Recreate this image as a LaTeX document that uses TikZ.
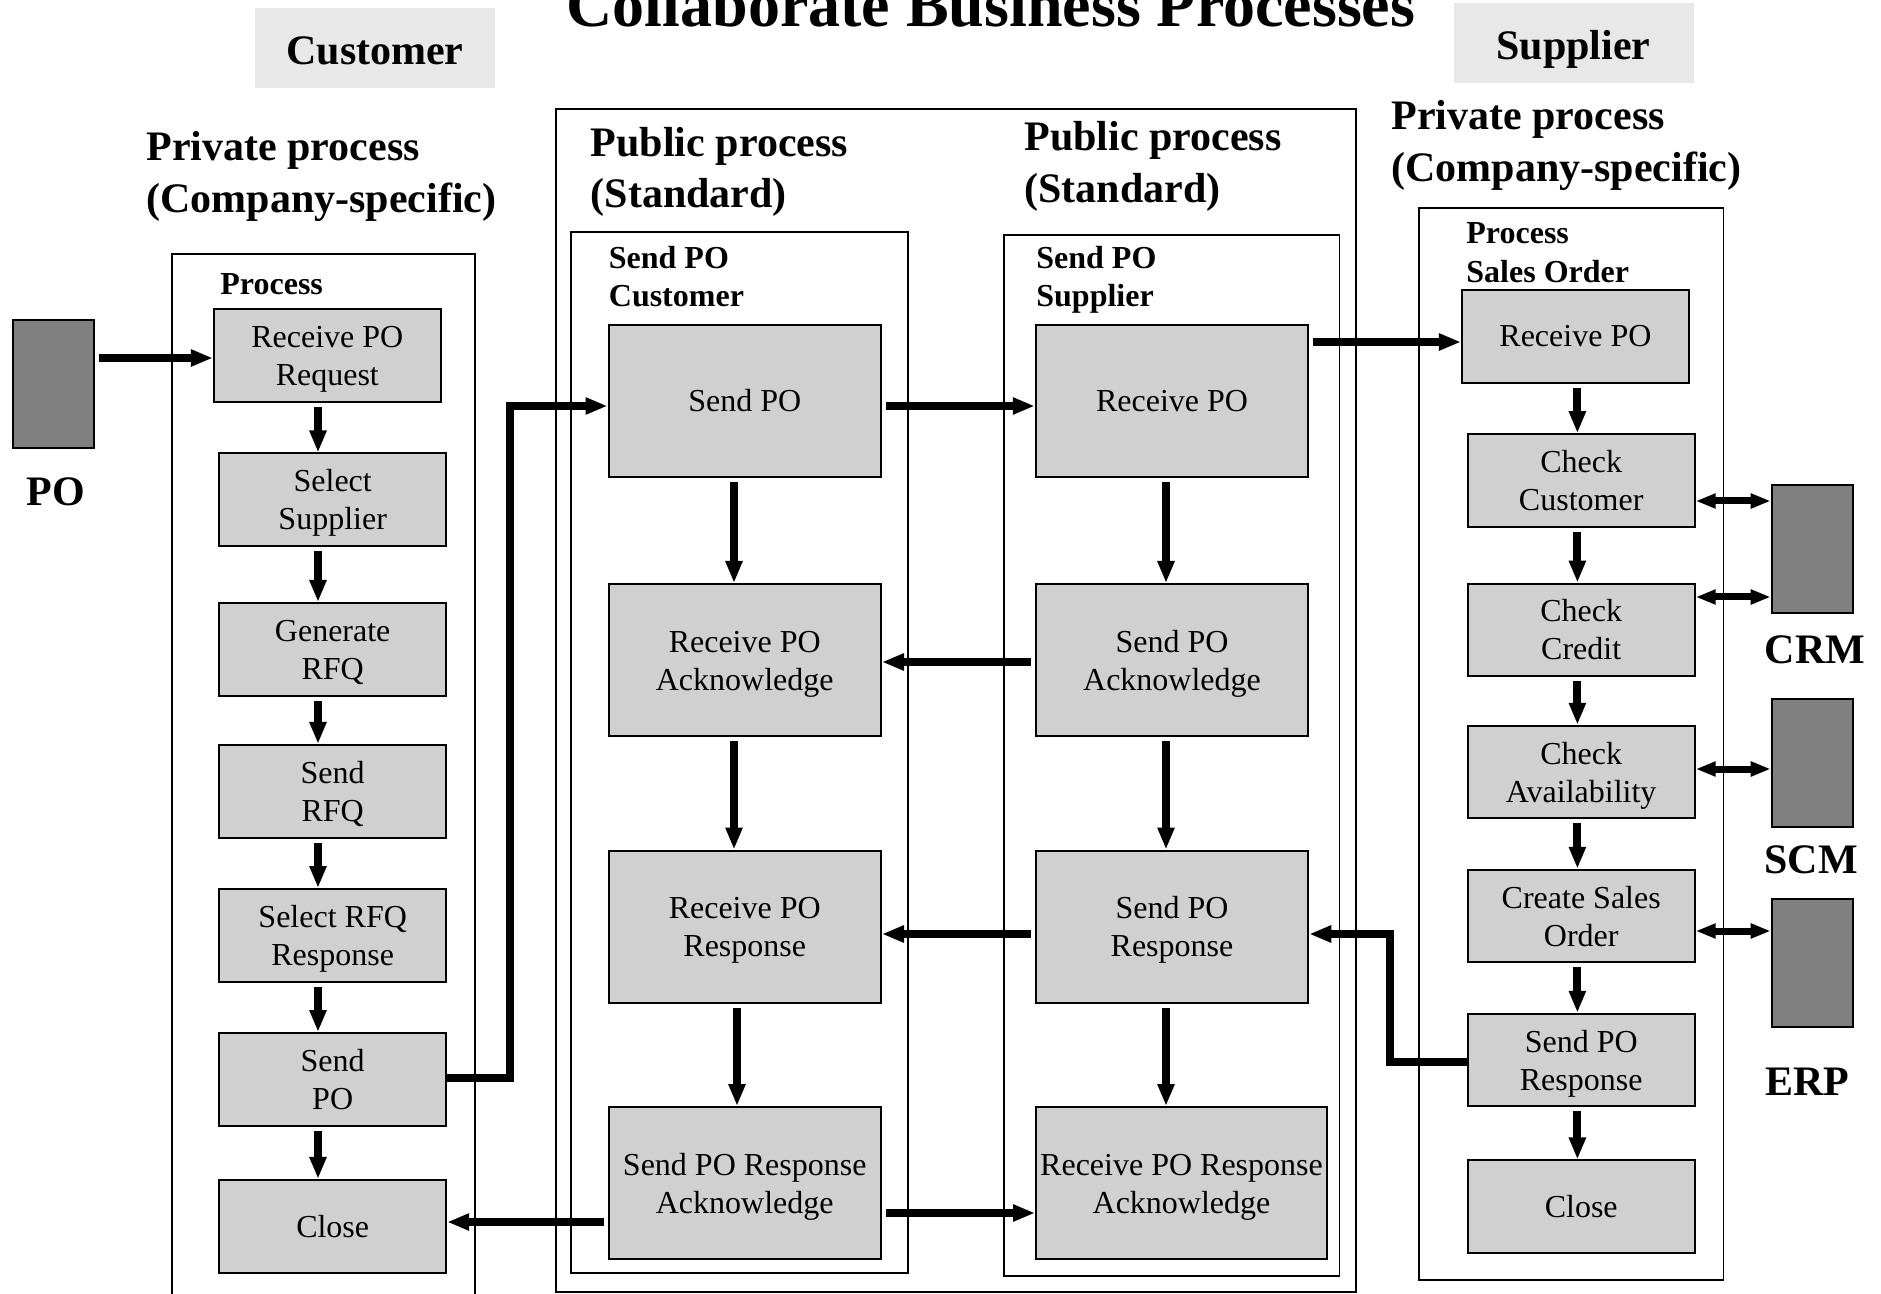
\documentclass[tikz,border=0pt]{standalone}
\usepackage{fontspec}
\setmainfont{Liberation Serif}
\usetikzlibrary{arrows.meta,calc}
\definecolor{boxgray}{RGB}{208,208,208}
\definecolor{sysgray}{RGB}{128,128,128}
\definecolor{headgray}{RGB}{232,232,232}

\begin{document}
\begin{tikzpicture}[x=0.5pt,y=-0.5pt,
  stepbox/.style={draw=black, line width=1pt, fill=boxgray, align=center,
    inner sep=0pt, font=\fontsize{16}{19}\selectfont},
  twoline/.style={text height=32.5pt, text depth=2.5pt},
  narrowbox/.style={stepbox, minimum width=113.5pt, minimum height=46.5pt},
  widebox/.style={stepbox, minimum width=136.25pt, minimum height=76pt},
  sysbox/.style={draw=black, line width=1pt, fill=sysgray,
    minimum width=40.5pt, minimum height=64pt, inner sep=0pt},
  headbox/.style={fill=headgray, minimum width=120pt, minimum height=40pt, inner sep=0pt},
  cont/.style={draw=black, line width=0.8pt},
  heading/.style={font=\fontsize{21}{26}\selectfont\bfseries, inner sep=0pt, anchor=base west},
  lab/.style={font=\fontsize{16}{19}\selectfont\bfseries, inner sep=0pt, anchor=base west},
  sysname/.style={font=\fontsize{21}{26}\selectfont\bfseries, inner sep=0pt, anchor=base},
  arr/.style={line width=4pt, -{Triangle[length=11pt,width=8pt]}, shorten <=2pt},
  darr/.style={line width=3.5pt, {Triangle[length=10pt,width=7pt]}-{Triangle[length=10pt,width=7pt]}}
]
\useasboundingbox (0,0) rectangle (1881,1294);

% ---------- title and party headers ----------
\node[font=\fontsize{32}{38}\selectfont\bfseries, inner sep=0pt, anchor=base]
  (title) at (991,27) {Collaborate Business Processes};
\node[headbox] (custhead) at (375,48) {};
\node[sysname] (custtxt) at (375,65) {Customer};
\node[headbox] (suphead) at (1573.5,43) {};
\node[sysname] (suptxt) at (1573.5,60) {Supplier};

% ---------- section headings ----------
\node[heading] (privL1) at (146,161) {Private process};
\node[heading] (privL2) at (146,213) {(Company-specific)};
\node[heading] (pubL1) at (590.5,157) {Public process};
\node[heading] (pubL2) at (590.5,208) {(Standard)};
\node[heading] (pubR1) at (1024,151) {Public process};
\node[heading] (pubR2) at (1024,203) {(Standard)};
\node[heading] (privR1) at (1391,130) {Private process};
\node[heading] (privR2) at (1391,182) {(Company-specific)};

% ---------- containers ----------
\draw[cont] (172,1294) -- (172,254) -- (475,254) -- (475,1294);
\draw[cont] (556,109) rectangle (1356,1292);
\draw[cont] (571,232) rectangle (907.7,1273);
\draw[cont] (1004,235) rectangle (1339.5,1276);
\draw[cont] (1419,208) rectangle (1723.5,1280);

\node[lab] (lprocl) at (220,295) {Process};
\node[lab] (custl1) at (608.5,269) {Send PO};
\node[lab] (custl2) at (608.5,307) {Customer};
\node[lab] (supl1) at (1036,269) {Send PO};
\node[lab] (supl2) at (1036,307) {Supplier};
\node[lab] (rprocl1) at (1466,244) {Process};
\node[lab] (rprocl2) at (1466,283) {Sales Order};

% ---------- customer private process ----------
\node[narrowbox, twoline] (lRecv) at (327.3,355.5) {Receive PO\\Request};
\node[narrowbox, twoline] (lSel) at (332.7,500) {Select\\Supplier};
\node[narrowbox, twoline] (lGen) at (332.7,649.5) {Generate\\RFQ};
\node[narrowbox, twoline] (lSendRFQ) at (332.7,791.4) {Send\\RFQ};
\node[narrowbox, twoline] (lSelRFQ) at (332.7,935.5) {Select RFQ\\Response};
\node[narrowbox, twoline] (lSendPO) at (332.7,1079.5) {Send\\PO};
\node[narrowbox] (lClose) at (332.7,1226.4) {Close};

% ---------- public processes ----------
\node[widebox] (pSendPO) at (744.75,401) {Send PO};
\node[widebox, twoline] (pRecvAck) at (744.75,660) {Receive PO\\Acknowledge};
\node[widebox, twoline] (pRecvResp) at (744.75,926.5) {Receive PO\\Response};
\node[widebox, twoline] (pSendRespAck) at (744.75,1183) {Send PO Response\\Acknowledge};
\node[widebox] (pRecvPO) at (1172,401) {Receive PO};
\node[widebox, twoline] (pSendAck) at (1172,660) {Send PO\\Acknowledge};
\node[widebox, twoline] (pSendResp) at (1172,926.5) {Send PO\\Response};
\node[widebox, twoline, minimum width=145.5pt] (pRecvRespAck) at (1181.5,1183) {Receive PO Response\\Acknowledge};

% ---------- supplier private process ----------
\node[narrowbox, minimum height=46.25pt] (rRecv) at (1575.4,336.3) {Receive PO};
\node[narrowbox, twoline, minimum height=46.25pt] (rCust) at (1581.2,480.4) {Check\\Customer};
\node[narrowbox, twoline, minimum height=46.25pt] (rCredit) at (1581.2,629.8) {Check\\Credit};
\node[narrowbox, twoline, minimum height=46.25pt] (rAvail) at (1581.2,772) {Check\\Availability};
\node[narrowbox, twoline, minimum height=46.25pt] (rCreate) at (1581.2,916) {Create Sales\\Order};
\node[narrowbox, twoline, minimum height=46.25pt] (rSend) at (1581.2,1060) {Send PO\\Response};
\node[narrowbox, minimum height=46.25pt] (rClose) at (1581.2,1206.7) {Close};

% ---------- external systems ----------
\node[sysbox] (po) at (53.8,384.5) {};
\node[sysname] (potxt) at (56,506) {PO};
\node[sysbox] (crm) at (1812.2,548.75) {};
\node[sysname] (crmtxt) at (1815,663) {CRM};
\node[sysbox] (scm) at (1812.2,763.4) {};
\node[sysname] (scmtxt) at (1811,873) {SCM};
\node[sysbox] (erp) at (1812.2,963) {};
\node[sysname] (erptxt) at (1807,1095) {ERP};

% ---------- customer private flow ----------
\draw[arr] (po.east |- 0,358) -- (lRecv.west |- 0,358);
\draw[arr] (lRecv.south -| 318,0) -- (lSel.north -| 318,0);
\draw[arr] (lSel.south -| 318,0) -- (lGen.north -| 318,0);
\draw[arr] (lGen.south -| 318,0) -- (lSendRFQ.north -| 318,0);
\draw[arr] (lSendRFQ.south -| 318,0) -- (lSelRFQ.north -| 318,0);
\draw[arr] (lSelRFQ.south -| 318,0) -- (lSendPO.north -| 318,0);
\draw[arr] (lSendPO.south -| 318,0) -- (lClose.north -| 318,0);
\draw[arr, shorten <=0pt] (lSendPO.east |- 0,1078) -| (510,406) -- (pSendPO.west |- 0,406);

% ---------- public flow ----------
\draw[arr] (pSendPO.east |- 0,406) -- (pRecvPO.west |- 0,406);
\draw[arr] (pSendPO.south -| 734,0) -- (pRecvAck.north -| 734,0);
\draw[arr] (pRecvPO.south -| 1166,0) -- (pSendAck.north -| 1166,0);
\draw[arr] (pSendAck.west |- 0,662) -- (pRecvAck.east |- 0,662);
\draw[arr] (pRecvAck.south -| 734,0) -- (pRecvResp.north -| 734,0);
\draw[arr] (pSendAck.south -| 1166,0) -- (pSendResp.north -| 1166,0);
\draw[arr] (pSendResp.west |- 0,934) -- (pRecvResp.east |- 0,934);
\draw[arr] (pRecvResp.south -| 737,0) -- (pSendRespAck.north -| 737,0);
\draw[arr] (pSendResp.south -| 1166,0) -- (pRecvRespAck.north -| 1166,0);
\draw[arr] (pSendRespAck.east |- 0,1213) -- (pRecvRespAck.west |- 0,1213);
\draw[arr] (pSendRespAck.west |- 0,1222) -- (lClose.east |- 0,1222);
\draw[arr] (pRecvPO.east |- 0,342) -- (rRecv.west |- 0,342);

% ---------- supplier private flow ----------
\draw[arr] (rRecv.south -| 1577.4,0) -- (rCust.north -| 1577.4,0);
\draw[arr] (rCust.south -| 1577.4,0) -- (rCredit.north -| 1577.4,0);
\draw[arr] (rCredit.south -| 1577.4,0) -- (rAvail.north -| 1577.4,0);
\draw[arr] (rAvail.south -| 1577.4,0) -- (rCreate.north -| 1577.4,0);
\draw[arr] (rCreate.south -| 1577.4,0) -- (rSend.north -| 1577.4,0);
\draw[arr] (rSend.south -| 1577.4,0) -- (rClose.north -| 1577.4,0);
\draw[arr, shorten <=0pt] (rSend.west |- 0,1062) -| (1390,934) -- (pSendResp.east |- 0,934);

% ---------- system links ----------
\draw[darr] (rCust.east |- 0,501) -- (crm.west |- 0,501);
\draw[darr] (rCredit.east |- 0,597) -- (crm.west |- 0,597);
\draw[darr] (rAvail.east |- 0,769) -- (scm.west |- 0,769);
\draw[darr] (rCreate.east |- 0,931) -- (erp.west |- 0,931);
\end{tikzpicture}
\end{document}
